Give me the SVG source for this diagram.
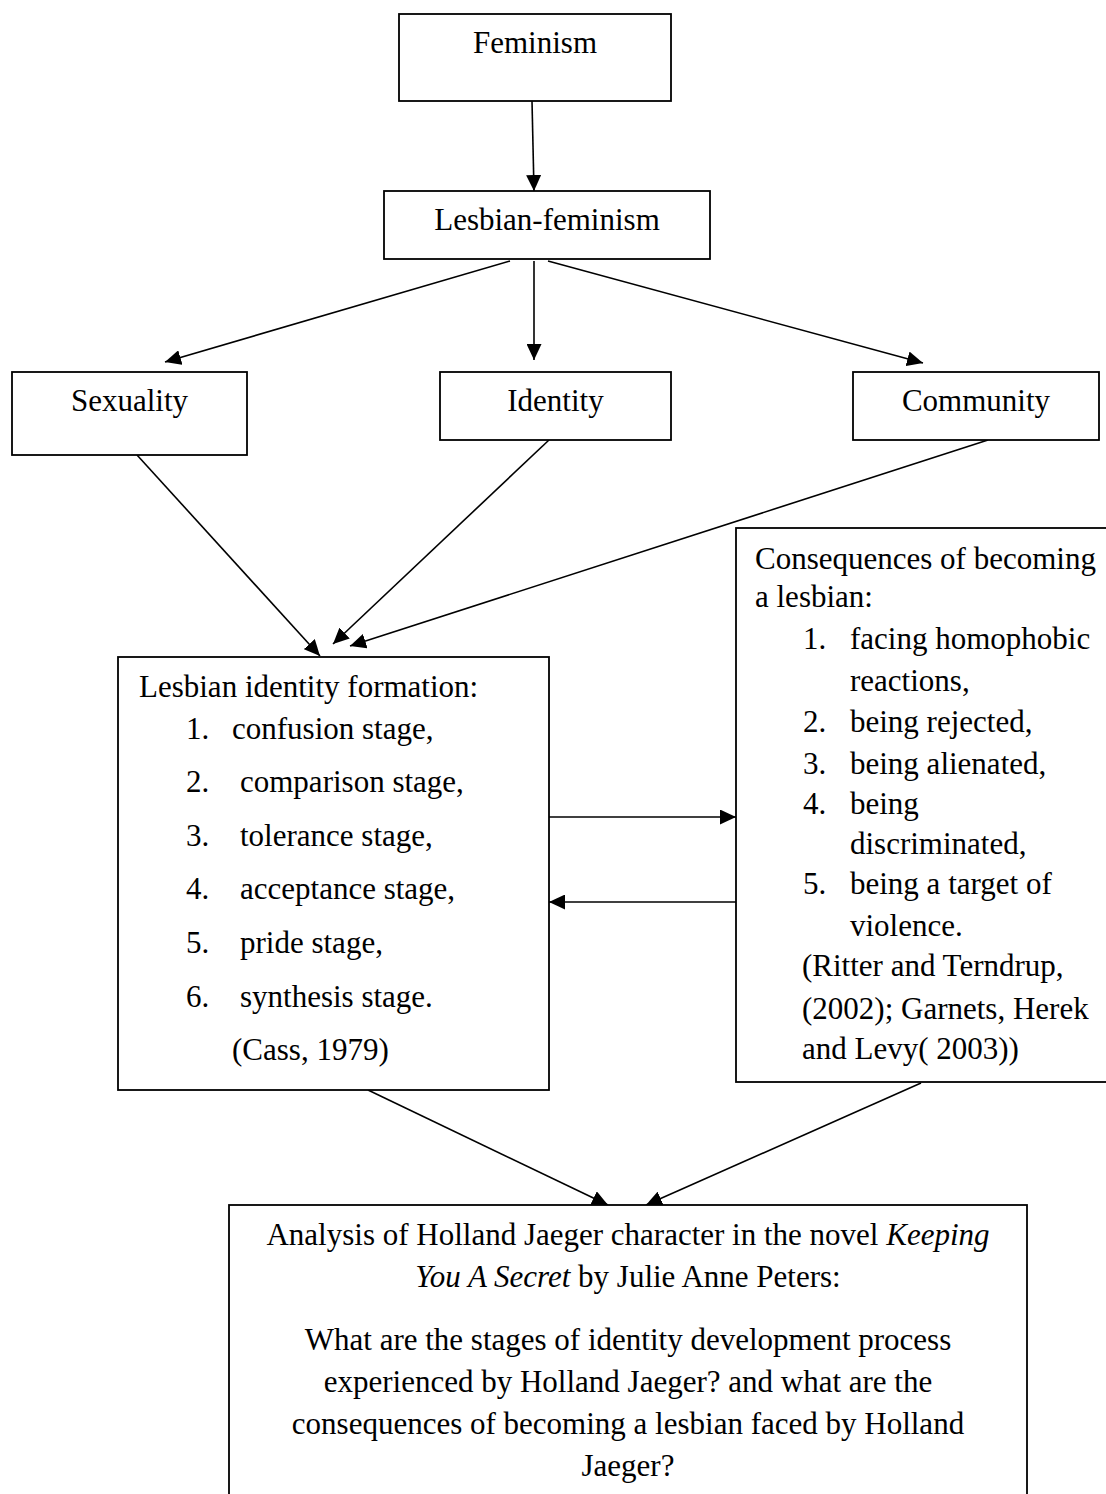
<svg xmlns="http://www.w3.org/2000/svg" width="1106" height="1494" viewBox="0 0 1106 1494">
<style>
rect.box{fill:#fff;stroke:#000;stroke-width:1.8}
text{font-family:"Liberation Serif","Times New Roman",serif;font-size:31px;fill:#000}
.c{text-anchor:middle}
#connectors line{stroke:#000;stroke-width:1.6;fill:none}
</style>
<defs>
<marker id="ah" markerUnits="userSpaceOnUse" markerWidth="17" markerHeight="15" refX="16" refY="7.5" orient="auto">
<path d="M0,0 L16,7.5 L0,15 z" fill="#000"/>
</marker>
</defs>
<rect width="1106" height="1494" fill="#fff"/>
<g id="connectors">
<line x1="532" y1="101" x2="534" y2="191" marker-end="url(#ah)"/>
<line x1="510" y1="261" x2="165" y2="362" marker-end="url(#ah)"/>
<line x1="534" y1="261" x2="534" y2="360" marker-end="url(#ah)"/>
<line x1="548" y1="261" x2="923" y2="363" marker-end="url(#ah)"/>
<line x1="137" y1="455" x2="320" y2="656" marker-end="url(#ah)"/>
<line x1="549" y1="440" x2="333" y2="644" marker-end="url(#ah)"/>
<line x1="988" y1="440" x2="350" y2="646" marker-end="url(#ah)"/>
<line x1="549" y1="817" x2="736" y2="817" marker-end="url(#ah)"/>
<line x1="736" y1="902" x2="549" y2="902" marker-end="url(#ah)"/>
<line x1="368" y1="1090" x2="608" y2="1205" marker-end="url(#ah)"/>
<line x1="921" y1="1083" x2="646" y2="1205" marker-end="url(#ah)"/>
</g>
<g id="feminism">
<rect class="box" x="399" y="14" width="272" height="87"/>
<text class="c" x="535" y="53">Feminism</text>
</g>
<g id="lesbian-feminism">
<rect class="box" x="384" y="191" width="326" height="68"/>
<text class="c" x="547" y="230">Lesbian-feminism</text>
</g>
<g id="sexuality">
<rect class="box" x="12" y="372" width="235" height="83"/>
<text class="c" x="129.5" y="411">Sexuality</text>
</g>
<g id="identity">
<rect class="box" x="440" y="372" width="231" height="68"/>
<text class="c" x="555.5" y="411">Identity</text>
</g>
<g id="community">
<rect class="box" x="853" y="372" width="246" height="68"/>
<text class="c" x="976" y="411">Community</text>
</g>
<g id="identity-formation">
<rect class="box" x="118" y="657" width="431" height="433"/>
<text x="139" y="697">Lesbian identity formation:</text>
<text x="186" y="739">1.</text><text x="232" y="739">confusion stage,</text>
<text x="186" y="792">2.</text><text x="240" y="792">comparison stage,</text>
<text x="186" y="846">3.</text><text x="240" y="846">tolerance stage,</text>
<text x="186" y="899">4.</text><text x="240" y="899">acceptance stage,</text>
<text x="186" y="953">5.</text><text x="240" y="953">pride stage,</text>
<text x="186" y="1007">6.</text><text x="240" y="1007">synthesis stage.</text>
<text x="232" y="1060">(Cass, 1979)</text>
</g>
<g id="consequences">
<rect class="box" x="736" y="528" width="374" height="554"/>
<text x="755" y="569">Consequences of becoming</text>
<text x="755" y="607">a lesbian:</text>
<text x="803" y="649">1.</text><text x="850" y="649">facing homophobic</text>
<text x="850" y="691">reactions,</text>
<text x="803" y="732">2.</text><text x="850" y="732">being rejected,</text>
<text x="803" y="774">3.</text><text x="850" y="774">being alienated,</text>
<text x="803" y="814">4.</text><text x="850" y="814">being</text>
<text x="850" y="854">discriminated,</text>
<text x="803" y="894">5.</text><text x="850" y="894">being a target of</text>
<text x="850" y="936">violence.</text>
<text x="802" y="976">(Ritter and Terndrup,</text>
<text x="802" y="1019">(2002); Garnets, Herek</text>
<text x="802" y="1059">and Levy( 2003))</text>
</g>
<g id="analysis">
<rect class="box" x="229" y="1205" width="798" height="300"/>
<text class="c" x="628" y="1245">Analysis of Holland Jaeger character in the novel <tspan font-style="italic">Keeping</tspan></text>
<text class="c" x="628" y="1287"><tspan font-style="italic">You A Secret</tspan> by Julie Anne Peters:</text>
<text class="c" x="628" y="1350">What are the stages of identity development process</text>
<text class="c" x="628" y="1392">experienced by Holland Jaeger? and what are the</text>
<text class="c" x="628" y="1434">consequences of becoming a lesbian faced by Holland</text>
<text class="c" x="628" y="1476">Jaeger?</text>
</g>
</svg>
